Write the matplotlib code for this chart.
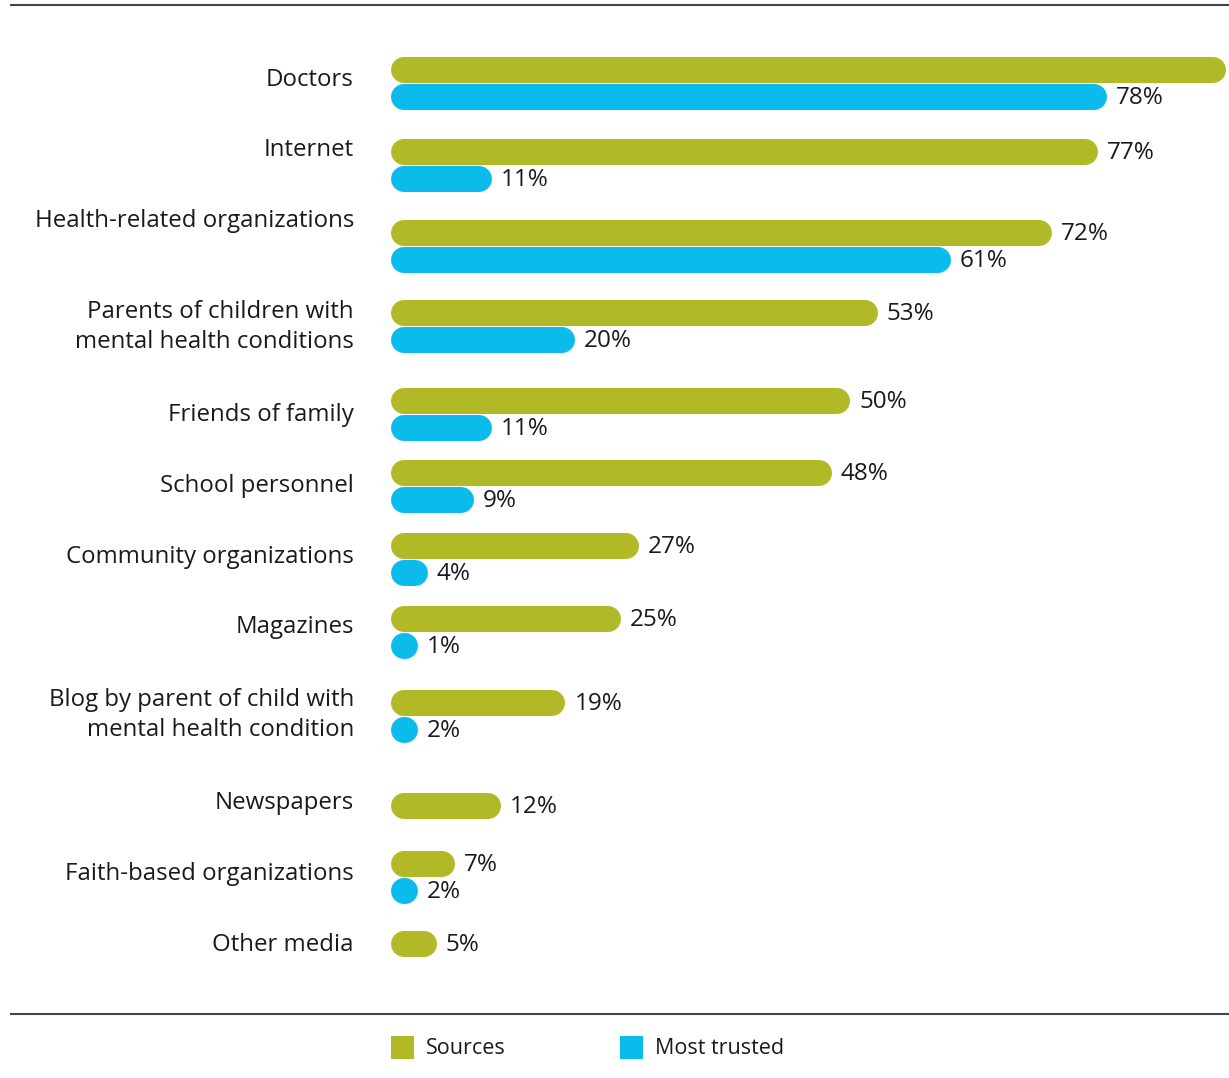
import numpy as np
import matplotlib.pyplot as plt
from matplotlib.lines import Line2D
from matplotlib.patches import Rectangle

plt.rcParams['font.family'] = ['Open Sans', 'DejaVu Sans']
plt.rcParams['path.simplify'] = False

#===============================================================#
## data
categories = ["Doctors", "Internet", "Health-related organizations",
              "Parents of children with\nmental health conditions",
              "Friends of family", "School personnel", "Community organizations",
              "Magazines", "Blog by parent of child with\nmental health condition",
              "Newspapers", "Faith-based organizations", "Other media"]
sources = [91, 77, 72, 53, 50, 48, 27, 25, 19, 12, 7, 5]
most_trusted = [78, 11, 61, 20, 11, 9, 4, 1, 2, None, 2, None]

GREEN = '#b1b926'
BLUE = '#0abbec'

## layout (pixels from top)
W, H = 1229, 1078
row_y = [70, 152, 233, 313, 401, 473, 546, 619, 703, 806, 864, 944]
label_y = [80, 150, 221, 327, 415, 486, 557, 627, 715, 803, 874, 945]
bar_h = 26          # px
gap = 26.5          # distance between green and blue bar centres
x0 = 391            # px, where bars start
px_per_pct = 9.18

#===============================================================#
fig = plt.figure(figsize=(W / 100, H / 100), dpi=100)
ax = fig.add_axes([x0 / W, 0, (W - x0) / W, 1])
ax.set_xlim(0, (W - x0) / px_per_pct)
ax.set_ylim(H, 0)
ax.axis('off')

lw_pt = bar_h * 72 / 100
r = bar_h / 2 / px_per_pct  # cap radius in % units


def pill(v, y, color):
    # round-capped line; very short segments vanish, so keep a small length
    end = max(v - r, r + 0.12)
    ax.plot([r, end], [y, y], color=color, lw=lw_pt, solid_capstyle='round',
            clip_on=True)
    right = max(v, end + r)
    if right + 3 < ax.get_xlim()[1]:
        ax.annotate(f"{v}%", xy=(right, y), xytext=(6.5, -1), textcoords='offset points',
                    va='center', ha='left', fontsize=17.5, color='#1a1a1a')


for i, cat in enumerate(categories):
    pill(sources[i], row_y[i], GREEN)
    if most_trusted[i] is not None:
        pill(most_trusted[i], row_y[i] + gap, BLUE)
    fig.text(354 / W, 1 - label_y[i] / H, cat, ha='right', va='center',
             fontsize=17.3, color='#1a1a1a', linespacing=1.38,
             multialignment='right')

## rules top and bottom
fig.add_artist(Line2D([11 / W, 1], [1 - 4.5 / H] * 2, color='#444444', lw=1.5))
fig.add_artist(Line2D([11 / W, 1], [1 - 1013.7 / H] * 2, color='#444444', lw=1.5))

## legend
for xs, xt, col, txt in [(391, 426, GREEN, "Sources"), (620, 655, BLUE, "Most trusted")]:
    fig.add_artist(Rectangle((xs / W, 1 - 1059 / H), 23 / W, 23 / H,
                             transform=fig.transFigure, color=col, lw=0))
    fig.text(xt / W, 1 - 1048 / H, txt, ha='left', va='center',
             fontsize=15.5, color='#1a1a1a')

fig.savefig("out.png", dpi=100)
